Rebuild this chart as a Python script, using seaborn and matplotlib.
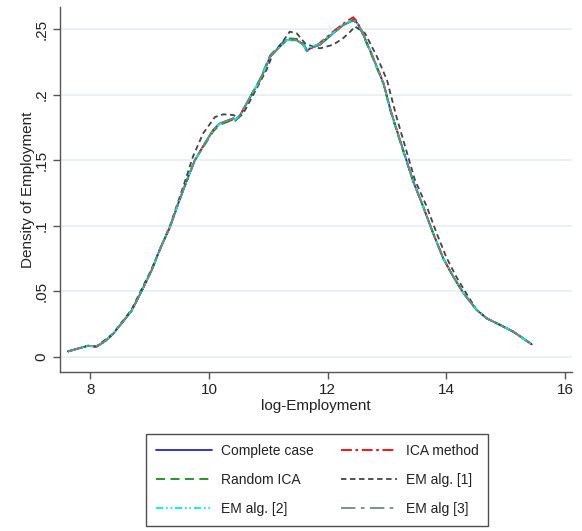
import matplotlib
matplotlib.use('Agg')
import matplotlib.pyplot as plt
import matplotlib.font_manager as fm
import seaborn as sns
import pandas as pd

# values
x_common = [7.62, 7.80, 7.96, 8.10, 8.25, 8.38, 8.53, 8.69, 8.86, 9.03, 9.17, 9.34, 9.48, 9.62,
            9.76, 9.93, 10.07, 10.18, 10.41, 10.44, 10.52, 10.69, 10.86, 11.03, 11.19, 11.31,
            11.48, 11.59, 11.65, 11.70, 11.87, 12.09, 12.26, 12.43, 12.49, 12.57, 12.74, 12.94,
            13.06, 13.27, 13.44, 13.61, 13.78, 13.95, 14.12, 14.29, 14.51, 14.68, 14.91, 15.13,
            15.44]
complete_case = [0.0043, 0.0066, 0.0086, 0.0079, 0.0122, 0.0175, 0.026, 0.035, 0.050, 0.066,
                 0.082, 0.099, 0.117, 0.134, 0.150, 0.163, 0.173, 0.178, 0.182, 0.181, 0.184,
                 0.198, 0.211, 0.229, 0.2365, 0.2416, 0.2416, 0.238, 0.233, 0.2353, 0.238,
                 0.2467, 0.253, 0.257, 0.255, 0.249, 0.231, 0.2086, 0.188, 0.158, 0.134, 0.1146,
                 0.094, 0.075, 0.061, 0.0486, 0.036, 0.0295, 0.0244, 0.0193, 0.0097]
ica_method = [0.0043, 0.0066, 0.0086, 0.0079, 0.0122, 0.0176, 0.026, 0.035, 0.050, 0.066,
              0.082, 0.099, 0.117, 0.134, 0.150, 0.163, 0.173, 0.178, 0.181, 0.180, 0.184,
              0.198, 0.211, 0.229, 0.2368, 0.2418, 0.2418, 0.238, 0.234, 0.2348, 0.2395,
              0.2480, 0.254, 0.259, 0.256, 0.249, 0.231, 0.2090, 0.188, 0.158, 0.134, 0.1146,
              0.094, 0.075, 0.061, 0.0486, 0.036, 0.0295, 0.0244, 0.0193, 0.0097]
random_ica = [0.0043, 0.0066, 0.0086, 0.0079, 0.0122, 0.0175, 0.026, 0.035, 0.050, 0.066,
              0.082, 0.099, 0.117, 0.134, 0.150, 0.162, 0.172, 0.177, 0.181, 0.180, 0.184,
              0.198, 0.212, 0.230, 0.2375, 0.2430, 0.2425, 0.239, 0.234, 0.2353, 0.2385,
              0.2470, 0.253, 0.2565, 0.254, 0.248, 0.230, 0.2080, 0.187, 0.157, 0.134, 0.1146,
              0.094, 0.075, 0.061, 0.0486, 0.036, 0.0295, 0.0244, 0.0193, 0.0097]
em_alg_2 = [0.0043, 0.0066, 0.0086, 0.0079, 0.0122, 0.0175, 0.026, 0.035, 0.050, 0.066,
            0.082, 0.099, 0.117, 0.134, 0.150, 0.163, 0.173, 0.178, 0.182, 0.181, 0.184,
            0.198, 0.211, 0.229, 0.2365, 0.2416, 0.2416, 0.238, 0.233, 0.2358, 0.2390,
            0.2470, 0.2535, 0.257, 0.255, 0.249, 0.231, 0.2086, 0.188, 0.158, 0.134, 0.1146,
            0.094, 0.075, 0.061, 0.0486, 0.036, 0.0295, 0.0244, 0.0193, 0.0097]
em_alg_3 = [0.0043, 0.0066, 0.0086, 0.0079, 0.0122, 0.0175, 0.026, 0.035, 0.050, 0.066,
            0.082, 0.099, 0.117, 0.134, 0.150, 0.163, 0.173, 0.178, 0.182, 0.181, 0.184,
            0.198, 0.211, 0.229, 0.2363, 0.2414, 0.2414, 0.238, 0.233, 0.2353, 0.2380,
            0.2465, 0.2528, 0.2565, 0.2548, 0.249, 0.231, 0.2086, 0.188, 0.158, 0.134, 0.1146,
            0.094, 0.075, 0.061, 0.0486, 0.036, 0.0295, 0.0244, 0.0193, 0.0097]

x_em1 = [7.62, 7.96, 8.10, 8.38, 8.69, 9.03, 9.34, 9.58, 9.73, 9.90, 10.10, 10.24, 10.41, 10.49,
         10.58, 10.77, 10.97, 11.08, 11.22, 11.36, 11.48, 11.62, 11.76, 11.87, 12.09, 12.26,
         12.38, 12.46, 12.63, 12.83, 13.00, 13.16, 13.47, 13.67, 13.84, 14.00, 14.17, 14.33,
         14.51, 14.68, 14.91, 15.13, 15.44]
em_alg_1 = [0.0043, 0.0086, 0.0080, 0.0178, 0.036, 0.067, 0.100, 0.132, 0.153, 0.1705, 0.183,
            0.185, 0.1845, 0.182, 0.186, 0.202, 0.219, 0.2315, 0.239, 0.248, 0.2467, 0.239,
            0.2365, 0.2353, 0.238, 0.243, 0.248, 0.252, 0.2467, 0.229, 0.211, 0.183, 0.135,
            0.1146, 0.094, 0.076, 0.061, 0.049, 0.036, 0.0295, 0.0244, 0.0193, 0.0097]

y_ticks = [0, 0.05, 0.1, 0.15, 0.2, 0.25]
y_tick_labels = ['0', '.05', '.1', '.15', '.2', '.25']
x_ticks = [8, 10, 12, 14, 16]

sns.set_theme(style='white')
names = [f.name for f in fm.fontManager.ttflist]
narrow = 'Liberation Sans Narrow' if 'Liberation Sans Narrow' in names else 'Liberation Sans'
plt.rcParams['font.family'] = [narrow, 'DejaVu Sans']

fig = plt.figure(figsize=(5.82, 5.31), dpi=100)
ax = fig.add_axes([0.103, 0.2994, 0.880, 0.6874])

series = [
    ('Complete case', x_common, complete_case, '#2424c8', '-'),
    ('ICA method', x_common, ica_method, '#ff0000', (0, (6, 2, 1.5, 2))),
    ('Random ICA', x_common, random_ica, '#1a8c1a', (0, (5, 3))),
    ('EM alg. [1]', x_em1, em_alg_1, '#444444', (0, (3, 2))),
    ('EM alg. [2]', x_common, em_alg_2, '#00eeee', (0, (4, 1.5, 1, 1.5, 1, 1.5))),
    ('EM alg [3]', x_common, em_alg_3, '#6b8c80', (0, (8, 3, 2, 3))),
]

for label, xs, ys, color, ls in series:
    df = pd.DataFrame({'x': xs, 'y': ys})
    sns.lineplot(data=df, x='x', y='y', ax=ax, color=color, linestyle=ls,
                 linewidth=1.3, label=label, sort=False, legend=False)

ax.set_xlim(7.486, 16.12)
ax.set_ylim(-0.0114, 0.2668)
ax.set_xticks(x_ticks)
ax.set_xticklabels([str(t) for t in x_ticks], fontsize=11)
ax.set_yticks(y_ticks)
ax.set_yticklabels(y_tick_labels, fontsize=11, rotation=90, va='center')

ax.yaxis.grid(True, color='#e8f0f2', linewidth=1.3)
ax.xaxis.grid(False)
for s in ['top', 'right']:
    ax.spines[s].set_visible(False)
for s in ['left', 'bottom']:
    ax.spines[s].set_color('#555555')
    ax.spines[s].set_linewidth(1.0)
ax.tick_params(axis='both', direction='out', length=5, width=1, color='#555555',
               left=True, bottom=True, labelcolor='#222222', pad=3)

ax.set_xlabel('log-Employment', fontsize=11, color='#222222', labelpad=1)
ax.set_ylabel('Density of Employment', fontsize=11, color='#222222', labelpad=0)

# row-major legend order like the reference: fill columns accordingly
handles, labels = ax.get_legend_handles_labels()
order = [0, 2, 4, 1, 3, 5]
leg = fig.legend([handles[i] for i in order], [labels[i] for i in order], ncol=2,
                 loc='upper center', bbox_to_anchor=(0.545, 0.1827),
                 frameon=True, fancybox=False, edgecolor='#222222', fontsize=10,
                 handlelength=4.0, columnspacing=2.0, handletextpad=0.65, labelspacing=1.1,
                 borderpad=0.7, borderaxespad=0)
leg.get_frame().set_linewidth(1.0)
for t in leg.get_texts():
    t.set_color('#222222')

fig.savefig('out.png', dpi=100)
